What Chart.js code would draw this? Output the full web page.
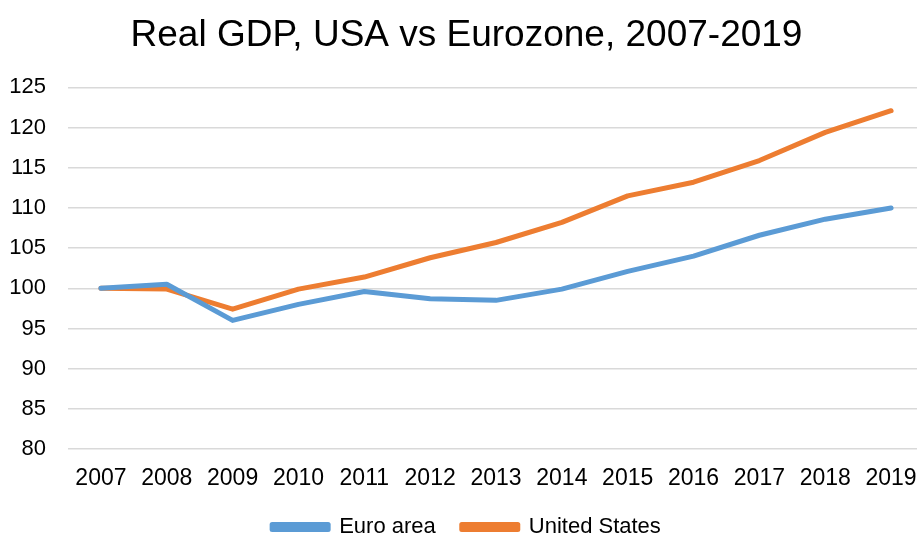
<!DOCTYPE html>
<html>
<head>
<meta charset="utf-8">
<script src="https://cdn.jsdelivr.net/npm/chart.js@4"></script>
<style>
  html, body { margin: 0; padding: 0; background: #fff; overflow: hidden; }
  #wrap { width: 924px; height: 541px; }
</style>
</head>
<body>
<div id="wrap"><canvas id="gdpChart"></canvas></div>
<script>
// Real GDP index (2007 = 100)
let years = ['2007','2008','2009','2010','2011','2012','2013','2014','2015','2016','2017','2018','2019'];
let euroArea = [100, 100.5, 96.0, 98.0, 99.6, 98.7, 98.5, 99.9, 102.1, 104.0, 106.6, 108.6, 110.0];
let unitedStates = [100, 99.9, 97.4, 99.9, 101.4, 103.8, 105.7, 108.2, 111.5, 113.2, 115.9, 119.4, 122.1];

Chart.defaults.font.family = '"Liberation Sans", Arial, sans-serif';
Chart.defaults.color = '#000';

// keep the legend block a fixed height so the plot bottom lines up
const legendHeight = {
  id: 'legendHeight',
  beforeInit(chart) {
    const fit = chart.legend.fit;
    chart.legend.fit = function () {
      fit.bind(chart.legend)();
      this.height = 51;
    };
  }
};

let ctx = document.getElementById('gdpChart').getContext('2d');
let gdpChart = new Chart(ctx, {
  type: 'line',
  data: {
    labels: years,
    datasets: [{
      label: 'Euro area',
      data: euroArea,
      borderColor: '#5B9BD5',
      backgroundColor: '#5B9BD5',
      borderWidth: 5,
      borderCapStyle: 'round',
      borderJoinStyle: 'round',
      pointRadius: 0,
      tension: 0
    }, {
      label: 'United States',
      data: unitedStates,
      borderColor: '#ED7D31',
      backgroundColor: '#ED7D31',
      borderWidth: 5,
      borderCapStyle: 'round',
      borderJoinStyle: 'round',
      pointRadius: 0,
      tension: 0
    }]
  },
  plugins: [legendHeight],
  options: {
    responsive: true,
    maintainAspectRatio: false,
    animation: false,
    layout: { padding: { left: 9, right: 0, top: 0, bottom: 0 } },
    plugins: {
      title: {
        display: true,
        text: 'Real GDP, USA vs Eurozone, 2007-2019',
        font: { size: 37, weight: 'normal' },
        color: '#000',
        padding: { top: 14, bottom: 29 }
      },
      legend: {
        position: 'bottom',
        labels: {
          font: { size: 22 },
          boxWidth: 56,
          boxHeight: 5,
          padding: 26
        }
      },
      tooltip: { enabled: false }
    },
    scales: {
      x: {
        offset: true,
        grid: { display: false },
        border: { display: false },
        ticks: { font: { size: 23 }, padding: 8, maxRotation: 0 },
        afterFit(scale) { scale.paddingLeft = 0; scale.paddingRight = 0; scale.height = 41; }
      },
      y: {
        min: 80,
        max: 125,
        ticks: { stepSize: 5, font: { size: 22 }, padding: 22 },
        grid: { color: '#d9d9d9', lineWidth: 1.5, drawTicks: false },
        border: { display: false },
        afterFit(scale) { scale.width = 59; }
      }
    }
  }
});
</script>
</body>
</html>
